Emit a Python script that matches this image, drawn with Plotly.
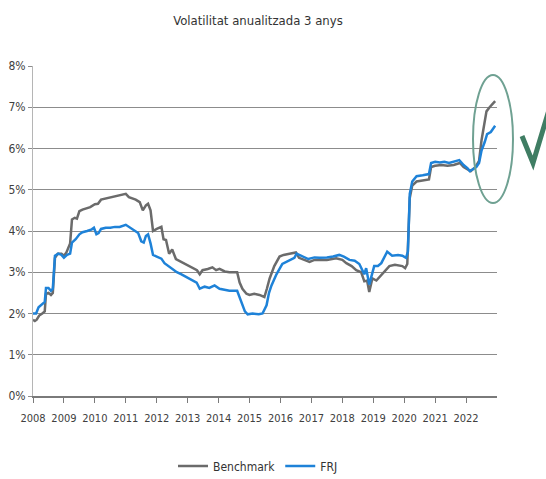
import plotly.graph_objects as go

# ---- data ----
bench_t = [2008.00, 2008.06, 2008.12, 2008.20, 2008.30, 2008.38, 2008.42, 2008.50, 2008.58, 2008.64,
           2008.71, 2008.80, 2008.92, 2009.00, 2009.08, 2009.16, 2009.20, 2009.26, 2009.35, 2009.42,
           2009.50, 2009.60, 2009.72, 2009.85, 2010.00, 2010.10, 2010.20, 2010.32, 2010.45, 2010.60,
           2010.75, 2010.90, 2011.00, 2011.10, 2011.20, 2011.32, 2011.45, 2011.55, 2011.65, 2011.72,
           2011.80, 2011.88, 2012.00, 2012.15, 2012.22, 2012.30, 2012.40, 2012.50, 2012.62, 2012.80,
           2012.97, 2013.15, 2013.30, 2013.39, 2013.48, 2013.65, 2013.80, 2013.92, 2014.03, 2014.20,
           2014.35, 2014.60, 2014.68, 2014.77, 2014.90, 2015.00, 2015.15, 2015.32, 2015.48, 2015.56,
           2015.65, 2015.80, 2015.97, 2016.10, 2016.30, 2016.50, 2016.60, 2016.75, 2016.94, 2017.10,
           2017.26, 2017.50, 2017.80, 2018.00, 2018.13, 2018.30, 2018.45, 2018.61, 2018.71, 2018.80,
           2018.87, 2018.97, 2019.10, 2019.19, 2019.35, 2019.52, 2019.70, 2019.94, 2020.03, 2020.10,
           2020.18, 2020.26, 2020.40, 2020.60, 2020.80, 2020.87, 2021.00, 2021.20, 2021.40, 2021.60,
           2021.80, 2021.92, 2022.05, 2022.15, 2022.30, 2022.42, 2022.50, 2022.58, 2022.66, 2022.76,
           2022.94]
bench_v = [1.85, 1.82, 1.85, 1.95, 2.00, 2.05, 2.48, 2.50, 2.45, 2.50,
           3.35, 3.45, 3.45, 3.40, 3.48, 3.62, 3.70, 4.28, 4.32, 4.30,
           4.48, 4.52, 4.55, 4.58, 4.65, 4.66, 4.76, 4.78, 4.82, 4.84,
           4.86, 4.88, 4.90, 4.82, 4.80, 4.76, 4.70, 4.50, 4.62, 4.66,
           4.50, 4.00, 4.05, 4.10, 3.80, 3.78, 3.45, 3.55, 3.32, 3.25,
           3.18, 3.10, 3.05, 2.95, 3.05, 3.08, 3.12, 3.05, 3.08, 3.02,
           3.00, 3.00, 2.75, 2.60, 2.48, 2.45, 2.48, 2.45, 2.40, 2.60,
           2.85, 3.15, 3.38, 3.42, 3.45, 3.48, 3.35, 3.30, 3.25, 3.30,
           3.30, 3.30, 3.34, 3.30, 3.22, 3.15, 3.05, 3.00, 2.78, 2.80,
           2.52, 2.85, 2.80, 2.88, 3.00, 3.15, 3.18, 3.15, 3.10, 3.20,
           4.80, 5.10, 5.20, 5.22, 5.25, 5.55, 5.58, 5.60, 5.58, 5.60,
           5.65, 5.55, 5.50, 5.45, 5.55, 5.70, 6.20, 6.60, 6.90, 7.00,
           7.15]

frj_t = [2008.00, 2008.10, 2008.18, 2008.28, 2008.38, 2008.42, 2008.50, 2008.58, 2008.64, 2008.71,
         2008.82, 2008.92, 2009.00, 2009.10, 2009.20, 2009.26, 2009.38, 2009.50, 2009.60, 2009.75,
         2009.90, 2009.97, 2010.05, 2010.12, 2010.20, 2010.35, 2010.50, 2010.65, 2010.80, 2011.00,
         2011.10, 2011.25, 2011.40, 2011.50, 2011.58, 2011.65, 2011.72, 2011.80, 2011.88, 2012.00,
         2012.15, 2012.25, 2012.42, 2012.55, 2012.65, 2012.80, 2012.97, 2013.15, 2013.29, 2013.39,
         2013.55, 2013.70, 2013.87, 2014.03, 2014.20, 2014.35, 2014.60, 2014.68, 2014.77, 2014.85,
         2014.94, 2015.10, 2015.30, 2015.42, 2015.55, 2015.63, 2015.71, 2015.87, 2016.06, 2016.29,
         2016.45, 2016.52, 2016.71, 2016.90, 2017.10, 2017.26, 2017.50, 2017.70, 2017.90, 2018.05,
         2018.23, 2018.40, 2018.55, 2018.71, 2018.77, 2018.87, 2019.03, 2019.15, 2019.26, 2019.36,
         2019.45, 2019.61, 2019.80, 2019.94, 2020.06, 2020.12, 2020.18, 2020.26, 2020.40, 2020.60,
         2020.80, 2020.87, 2021.00, 2021.15, 2021.30, 2021.45, 2021.60, 2021.78, 2021.92, 2022.05,
         2022.12, 2022.22, 2022.33, 2022.42, 2022.50, 2022.60, 2022.68, 2022.80, 2022.94]
frj_v = [2.00, 2.00, 2.15, 2.22, 2.28, 2.62, 2.62, 2.55, 2.60, 3.40,
         3.45, 3.42, 3.35, 3.42, 3.45, 3.72, 3.80, 3.92, 3.97, 4.00,
         4.04, 4.08, 3.92, 3.95, 4.05, 4.08, 4.08, 4.10, 4.10, 4.15,
         4.10, 4.02, 3.95, 3.75, 3.72, 3.88, 3.92, 3.70, 3.42, 3.38,
         3.33, 3.22, 3.12, 3.05, 3.00, 2.95, 2.88, 2.80, 2.75, 2.60,
         2.65, 2.62, 2.68, 2.60, 2.58, 2.55, 2.55, 2.40, 2.20, 2.05,
         1.98, 2.00, 1.98, 2.00, 2.20, 2.50, 2.68, 2.95, 3.20, 3.28,
         3.35, 3.45, 3.38, 3.32, 3.36, 3.35, 3.36, 3.38, 3.42, 3.38,
         3.30, 3.28, 3.20, 2.95, 3.10, 2.70, 3.15, 3.15, 3.22, 3.38,
         3.50, 3.40, 3.42, 3.40, 3.35, 3.50, 4.90, 5.20, 5.33, 5.35,
         5.38, 5.65, 5.68, 5.66, 5.68, 5.65, 5.68, 5.72, 5.60, 5.52,
         5.45, 5.50, 5.55, 5.65, 5.95, 6.15, 6.35, 6.40, 6.55]

year_ticks = list(range(2008, 2023))
year_labels = [str(y) for y in year_ticks]
pct_ticks = list(range(0, 9))
pct_labels = [f"{p}%" for p in pct_ticks]

FONT = "DejaVu Sans Condensed, Liberation Sans Narrow, Liberation Sans, sans-serif"

L, R, T, B = 33, 49, 66, 83
PW, PH = 546 - L - R, 479 - T - B

fig = go.Figure()
fig.add_trace(go.Scatter(x=bench_t, y=bench_v, mode="lines", name="Benchmark",
                         line=dict(color="#6b6b6b", width=2.5)))
fig.add_trace(go.Scatter(x=frj_t, y=frj_v, mode="lines", name="FRJ",
                         line=dict(color="#1e82d8", width=2.5)))

fig.update_layout(
    width=546, height=479,
    margin=dict(l=L, r=R, t=T, b=B, autoexpand=False),
    paper_bgcolor="white", plot_bgcolor="white",
    font=dict(family=FONT, size=12, color="#404040"),
    title=dict(text="Volatilitat anualitzada 3 anys", x=258/546, xanchor="center",
               xref="container", y=1 - 20/479, yanchor="middle", yref="container",
               font=dict(family=FONT, size=13, color="#333333")),
    showlegend=True,
    legend=dict(orientation="h", x=(258-L)/PW, xanchor="center", y=(396-466)/PH, yanchor="middle",
                font=dict(family=FONT, size=12, color="#333333"), itemwidth=30,
                bgcolor="rgba(0,0,0,0)"),
    xaxis=dict(range=[2008, 2023], tickvals=year_ticks, ticktext=year_labels, automargin=False,
               showgrid=False, zeroline=False, showline=True, linecolor="#7a7a7a", linewidth=1.5,
               ticks="outside", ticklen=5, tickcolor="#7a7a7a", ticklabelstandoff=6,
               tickfont=dict(family=FONT, size=11, color="#404040")),
    yaxis=dict(range=[0, 8], tickvals=pct_ticks, ticktext=pct_labels, automargin=False,
               showgrid=True, gridcolor="#8c8c8c", gridwidth=1, zeroline=False,
               showline=True, linecolor="#b5b5b5", linewidth=1,
               ticks="outside", ticklen=4, tickcolor="#8c8c8c",
               tickfont=dict(family=FONT, size=12, color="#404040")),
)

# hand-drawn highlight: ellipse and check mark (positions in paper units)
fig.add_shape(type="circle", xref="paper", yref="paper",
              x0=(473-L)/PW, x1=(513-L)/PW, y0=(396-203)/PH, y1=(396-75)/PH,
              line=dict(color="#6fa192", width=2))
p1 = ((522-L)/PW, (396-136)/PH)
p2 = ((533-L)/PW, (396-163)/PH)
p3 = ((552-L)/PW, (396-100)/PH)
fig.add_shape(type="path", xref="paper", yref="paper",
              path=f"M {p1[0]:.4f} {p1[1]:.4f} L {p2[0]:.4f} {p2[1]:.4f} L {p3[0]:.4f} {p3[1]:.4f}",
              line=dict(color="#3f7d63", width=5))

fig.write_html("out.html", config={"displayModeBar": False},
               post_script="document.body.style.margin='0px';document.body.style.overflow='hidden';")
